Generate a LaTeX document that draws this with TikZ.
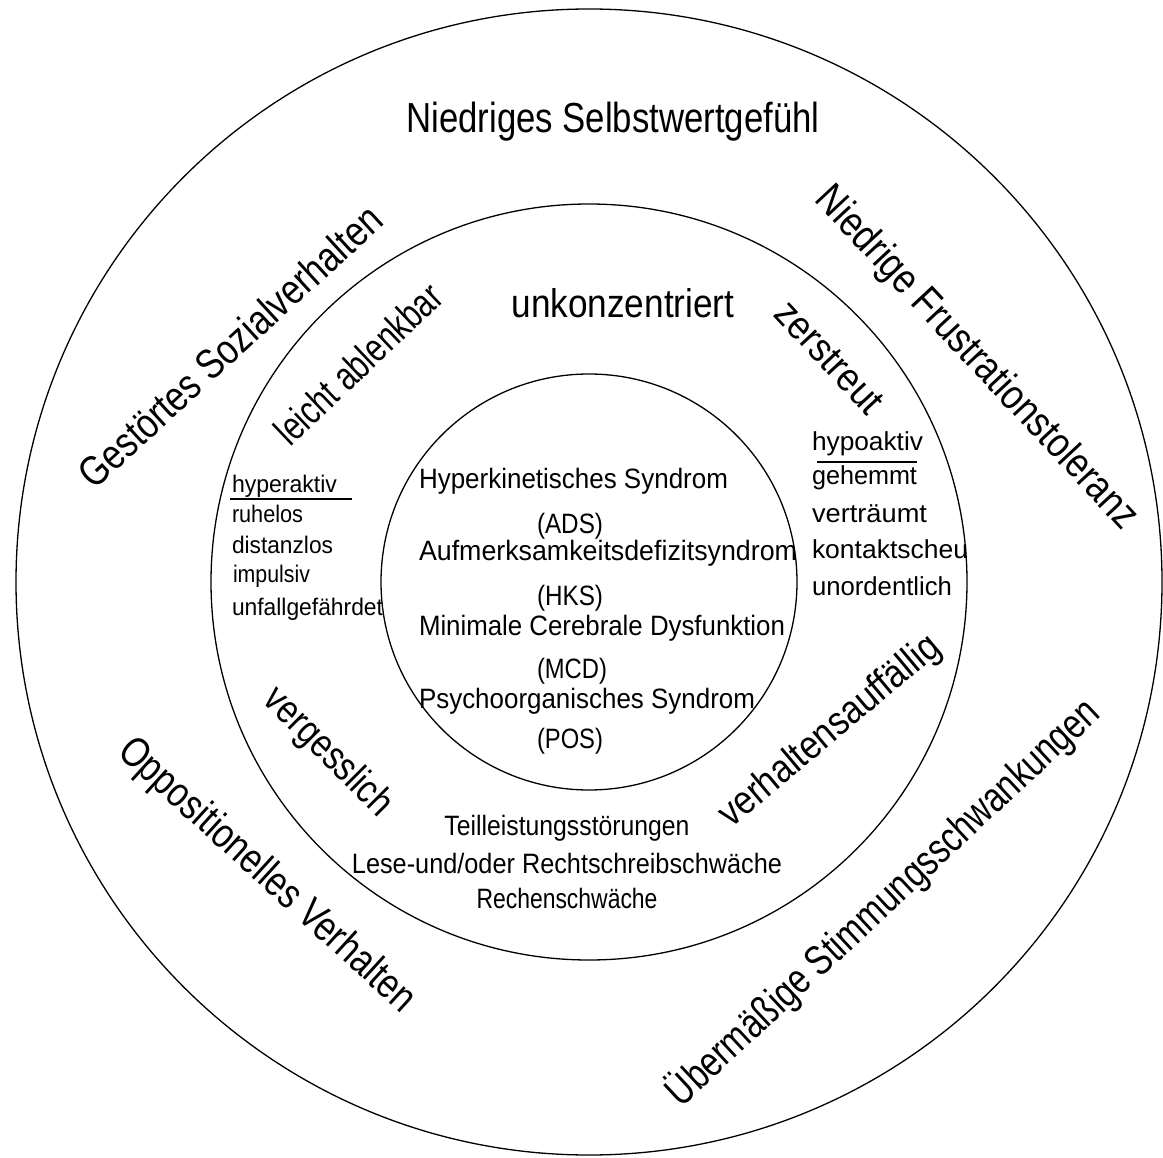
\documentclass[tikz,border=0pt]{standalone}
\usepackage{fontspec}
\setmainfont{Liberation Sans}
\usepackage{graphicx}
\newcommand\fw[2]{\resizebox{#1pt}{\height}{#2}}
\begin{document}
\begin{tikzpicture}[x=1pt,y=-1pt,
  ring/.style={draw=black,line width=1.3pt},
  lbl/.style={inner sep=0pt,outer sep=0pt,anchor=base},
  big/.style={lbl,font=\fontsize{42}{50}\selectfont},
  midt/.style={lbl,font=\fontsize{40}{48}\selectfont},
  inn/.style={lbl,font=\fontsize{28}{34}\selectfont},
  side/.style={lbl,font=\fontsize{26}{31}\selectfont},
  sidel/.style={lbl,font=\fontsize{24}{29}\selectfont},
  uline/.style={draw=black,line width=1.5pt}
]
\useasboundingbox (0,0) rectangle (1163,1158);
\coordinate (c) at (589,582);
\draw[ring] (c) circle[radius=573];
\draw[ring] (c) circle[radius=378];
\draw[ring] (c) circle[radius=208];

% outer ring
\node[big] (selbst) at (613,133) {\fw{413}{Niedriges Selbstwertgefühl}};
\node[big,rotate=42.5] (sozial) at (240,357) {\fw{395}{Gestörtes Sozialverhalten}};
\node[big,rotate=-47] (frust) at (968,366) {\fw{452}{Niedrige Frustrationstoleranz}};
\node[big,rotate=-42.3] (oppos) at (259,884) {\fw{386}{Oppositionelles Verhalten}};
\node[big,rotate=43] (stimm) at (892,912) {\fw{575}{Übermäßige Stimmungsschwankungen}};

% middle ring
\node[midt] (unkonz) at (623,318) {\fw{223}{unkonzentriert}};
\node[midt,rotate=43.5] (ablenk) at (368,374) {\fw{214}{leicht ablenkbar}};
\node[midt,rotate=-47] (zerstr) at (820,366) {\fw{139}{zerstreut}};
\node[midt,rotate=-45] (vergess) at (320,760) {\fw{165}{vergesslich}};
\node[midt,rotate=40] (verhalt) at (837,740) {\fw{276}{verhaltensauffällig}};

% left column
\node[sidel,anchor=base west] (hyper) at (232,492) {\fw{105}{hyperaktiv}};
\coordinate (hulA) at (230,499);
\coordinate (hulB) at (352,499);
\draw[uline] (hulA) -- (hulB);
\node[sidel,anchor=base west] (ruhe) at (232,522) {\fw{71}{ruhelos}};
\node[sidel,anchor=base west] (dist) at (232,553) {\fw{101}{distanzlos}};
\node[sidel,anchor=base west] (impu) at (233,582) {\fw{77}{impulsiv}};
\node[sidel,anchor=base west] (unfall) at (232,615) {\fw{151}{unfallgefährdet}};

% right column
\node[side,anchor=base west] (hypo) at (812,450) {\fw{111}{hypoaktiv}};
\coordinate (rulA) at (817,462);
\coordinate (rulB) at (917,462);
\draw[uline] (rulA) -- (rulB);
\node[side,anchor=base west] (gehemmt) at (812,485) {\fw{105}{gehemmt}};
\node[side,anchor=base west] (vertr) at (812,522) {\fw{115}{verträumt}};
\node[side,anchor=base west] (kontakt) at (812,558) {\fw{156}{kontaktscheu}};
\node[side,anchor=base west] (unord) at (812,595) {\fw{140}{unordentlich}};

% inner circle
\node[inn,anchor=base west] (hks) at (419,488) {\fw{309}{Hyperkinetisches Syndrom}};
\node[inn] (ads) at (570,533) {\fw{66}{(ADS)}};
\node[inn,anchor=base west] (aufm) at (419,560) {\fw{378}{Aufmerksamkeitsdefizitsyndrom}};
\node[inn] (hksab) at (570,605) {\fw{66}{(HKS)}};
\node[inn,anchor=base west] (mcd) at (419,635) {\fw{366}{Minimale Cerebrale Dysfunktion}};
\node[inn] (mcdab) at (572,678) {\fw{70}{(MCD)}};
\node[inn,anchor=base west] (pos) at (419,708) {\fw{336}{Psychoorganisches Syndrom}};
\node[inn] (posab) at (570,748) {\fw{66}{(POS)}};

% bottom block
\node[inn] (teil) at (567,835) {\fw{245}{Teilleistungsstörungen}};
\node[inn] (lese) at (567,873) {\fw{430}{Lese-und/oder Rechtschreibschwäche}};
\node[inn] (rechen) at (567,908) {\fw{181}{Rechenschwäche}};
\end{tikzpicture}
\end{document}
